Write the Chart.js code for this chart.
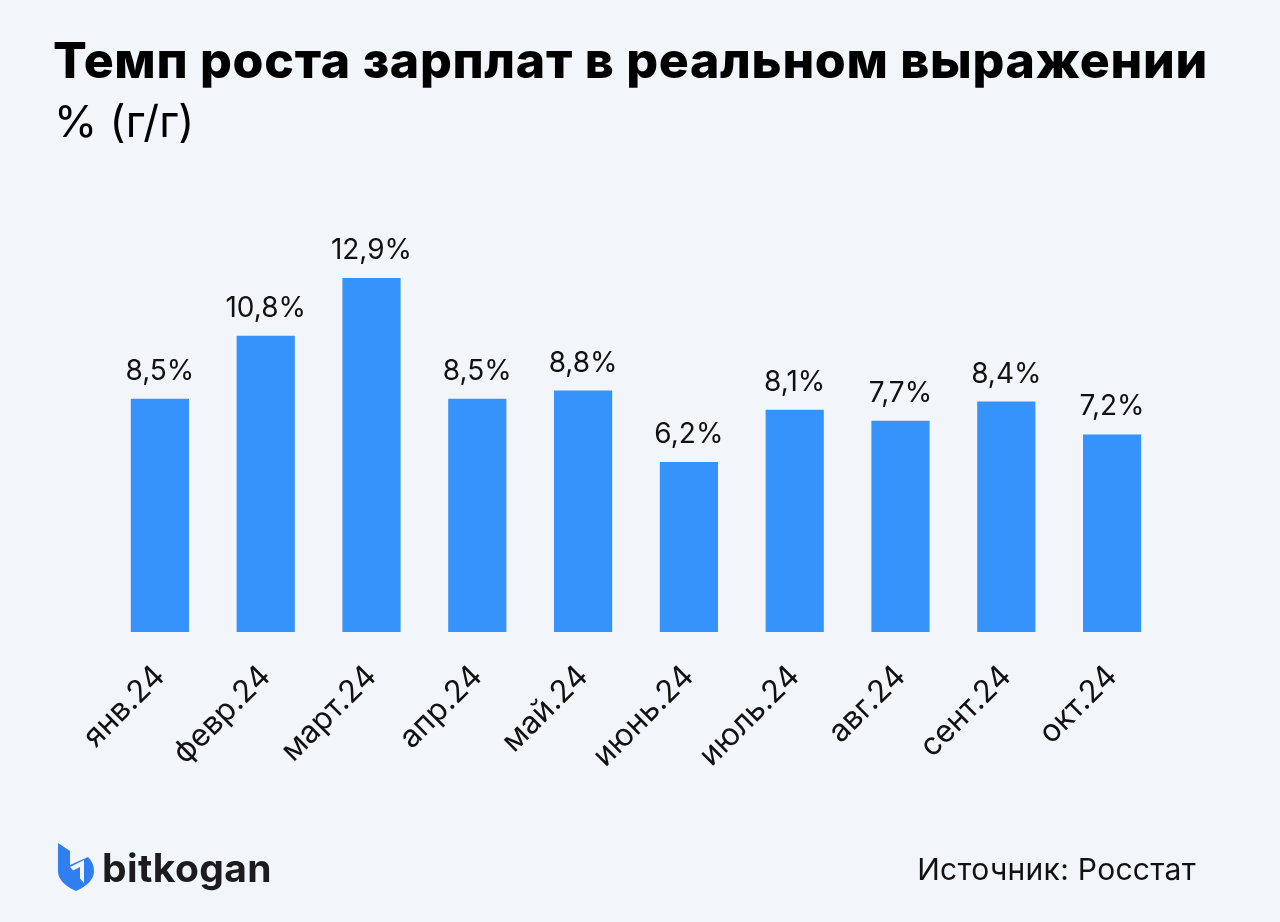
<!DOCTYPE html>
<html lang="ru">
<head>
    <meta charset="UTF-8">
    <title>Темп роста зарплат в реальном выражении</title>
    <script src="https://cdn.jsdelivr.net/npm/chart.js"></script>
    <style>
        html, body {
            margin: 0;
            padding: 0;
            width: 1280px;
            height: 922px;
            overflow: hidden;
            background: #f2f6fa;
            font-family: Inter, "Noto Sans", sans-serif;
            color: #000;
        }
        .title {
            position: absolute;
            left: 53px;
            top: 30px;
            font-size: 50px;
            font-weight: 800;
            white-space: nowrap;
            letter-spacing: 0.7px;
        }
        .subtitle {
            position: absolute;
            left: 54px;
            top: 94px;
            font-size: 44px;
            font-weight: 400;
        }
        .chart-box {
            position: absolute;
            left: 0;
            top: 0;
            width: 1280px;
            height: 922px;
        }
        .logo {
            position: absolute;
            left: 58px;
            top: 843px;
            display: flex;
            align-items: center;
        }
        .logo span {
            font-size: 39px;
            font-weight: 700;
            color: #1c1c1e;
            margin-left: 8px;
            letter-spacing: 0.4px;
        }
        .source {
            position: absolute;
            right: 84px;
            top: 851px;
            font-size: 30px;
            letter-spacing: 0.3px;
            color: #111;
        }
    </style>
</head>
<body>
    <div class="chart-box"><canvas id="wageChart" width="1280" height="922"></canvas></div>
    <div class="title">Темп роста зарплат в реальном выражении</div>
    <div class="subtitle">% (г/г)</div>

    <div class="logo">
        <svg width="36" height="48" viewBox="0 0 36 48">
            <path d="M0 0 L12 8 L12 22 L30 14 Q36 20 36 28 Q36 40 18 48 Q0 40 0 28 Z" fill="#2f7ff0"/>
            <path d="M12 24 L26 17 L26 40 Z" fill="#f2f6fa"/>
            <path d="M14 28 L22 24 L22 36 Z" fill="#2f7ff0"/>
        </svg>
        <span>bitkogan</span>
    </div>
    <div class="source">Источник: Росстат</div>

    <script>
        // данные с картинки
        const months = ['янв.24', 'февр.24', 'март.24', 'апр.24', 'май.24', 'июнь.24', 'июль.24', 'авг.24', 'сент.24', 'окт.24'];
        const growth = [8.5, 10.8, 12.9, 8.5, 8.8, 6.2, 8.1, 7.7, 8.4, 7.2];
        const valueLabels = ['8,5%', '10,8%', '12,9%', '8,5%', '8,8%', '6,2%', '8,1%', '7,7%', '8,4%', '7,2%'];

        const barColor = '#3593fb';
        const fontFamily = 'Inter, "Noto Sans", sans-serif';

        // подписи значений над столбцами
        const valueLabelPlugin = {
            id: 'valueLabels',
            afterDatasetsDraw(chart) {
                const ctx = chart.ctx;
                const meta = chart.getDatasetMeta(0);
                ctx.save();
                ctx.font = '400 28px ' + fontFamily;
                ctx.fillStyle = '#111';
                ctx.textAlign = 'center';
                ctx.textBaseline = 'alphabetic';
                meta.data.forEach((bar, i) => {
                    ctx.fillText(valueLabels[i], bar.x, bar.y - 19);
                });
                ctx.restore();
            }
        };

        const ctx = document.getElementById('wageChart').getContext('2d');
        const wageChart = new Chart(ctx, {
            type: 'bar',
            data: {
                labels: months,
                datasets: [{
                    data: growth,
                    backgroundColor: barColor,
                    barPercentage: 0.55,
                    categoryPercentage: 1.0
                }]
            },
            options: {
                responsive: false,
                animation: false,
                layout: {
                    padding: { left: 107, right: 115, top: 193, bottom: 0 }
                },
                plugins: {
                    legend: { display: false },
                    tooltip: { enabled: false }
                },
                scales: {
                    y: {
                        display: false,
                        min: 0,
                        max: 16
                    },
                    x: {
                        grid: { display: false },
                        border: { display: false },
                        ticks: {
                            color: '#111',
                            font: { family: fontFamily, size: 31 },
                            minRotation: 45,
                            maxRotation: 45,
                            padding: 18
                        },
                        afterFit(scale) {
                            scale.height = 290;
                        }
                    }
                }
            },
            plugins: [valueLabelPlugin]
        });
    </script>
</body>
</html>
